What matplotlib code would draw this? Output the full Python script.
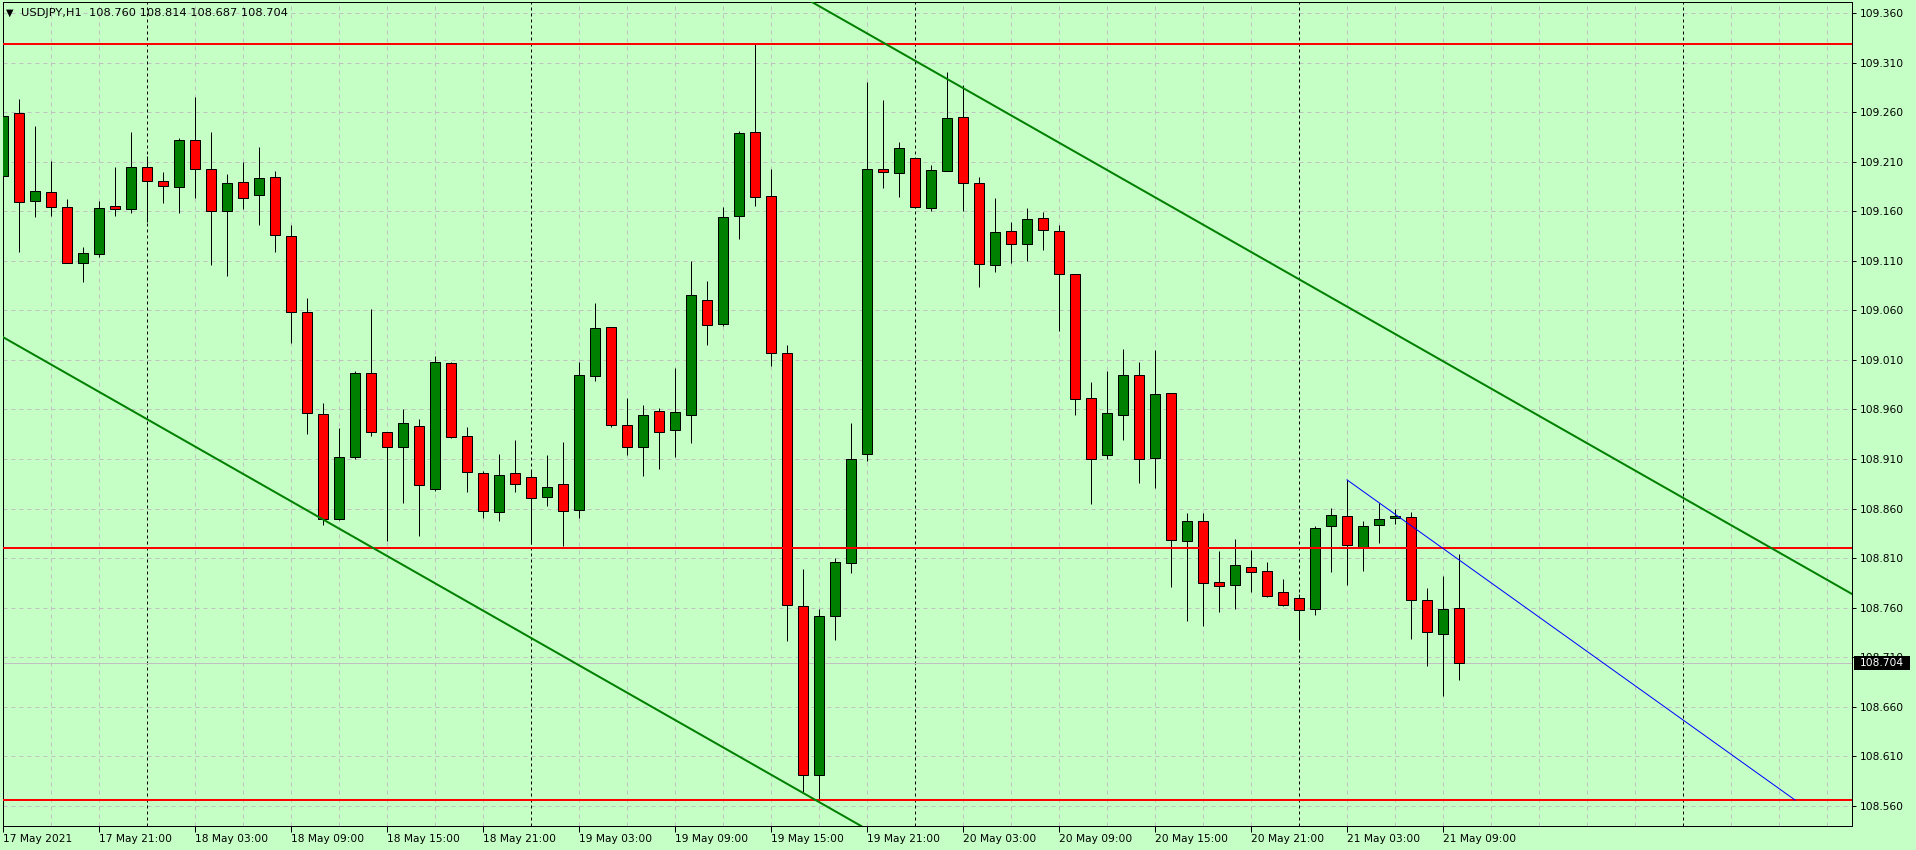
import matplotlib
matplotlib.use("Agg")
import matplotlib.pyplot as plt
from matplotlib.patches import Rectangle
from matplotlib.transforms import blended_transform_factory
import numpy as np

# ---------------- data ----------------
title_text = "USDJPY,H1  108.760 108.814 108.687 108.704"

opens = [109.196, 109.259, 109.170, 109.179, 109.164, 109.108, 109.117, 109.165, 109.162, 109.205,
         109.191, 109.184, 109.232, 109.203, 109.160, 109.190, 109.176, 109.195, 109.135, 109.058,
         108.955, 108.850, 108.912, 108.997, 108.937, 108.922, 108.943, 108.880, 109.007, 108.933,
         108.896, 108.857, 108.896, 108.892, 108.872, 108.885, 108.859, 108.994, 109.043, 108.944,
         108.922, 108.958, 108.939, 108.954, 109.070, 109.046, 109.155, 109.240, 109.175, 109.017,
         108.762, 108.591, 108.752, 108.805, 108.915, 109.203, 109.199, 109.214, 109.163, 109.201,
         109.255, 109.188, 109.106, 109.140, 109.127, 109.153, 109.140, 109.097, 108.972, 108.914,
         108.954, 108.995, 108.911, 108.977, 108.827, 108.848, 108.786, 108.783, 108.801, 108.797,
         108.776, 108.770, 108.759, 108.842, 108.853, 108.821, 108.843, 108.851, 108.852, 108.768,
         108.734, 108.760]
highs = [109.281, 109.273, 109.246, 109.211, 109.172, 109.124, 109.170, 109.205, 109.240, 109.216,
         109.200, 109.234, 109.275, 109.240, 109.198, 109.210, 109.225, 109.201, 109.146, 109.072,
         108.967, 108.941, 108.999, 109.061, 108.937, 108.960, 108.950, 109.014, 109.008, 108.942,
         108.898, 108.915, 108.929, 108.899, 108.914, 108.927, 109.008, 109.067, 109.043, 108.972,
         108.965, 108.962, 109.002, 109.110, 109.090, 109.164, 109.241, 109.330, 109.203, 109.025,
         108.799, 108.759, 108.810, 108.946, 109.290, 109.272, 109.230, 109.214, 109.207, 109.300,
         109.287, 109.195, 109.173, 109.149, 109.163, 109.159, 109.146, 109.097, 108.988, 108.999,
         109.021, 109.008, 109.020, 108.977, 108.856, 108.856, 108.817, 108.829, 108.818, 108.806,
         108.789, 108.774, 108.842, 108.861, 108.889, 108.848, 108.866, 108.860, 108.857, 108.780,
         108.792, 108.814]
lows = [109.148, 109.119, 109.154, 109.155, 109.108, 109.089, 109.114, 109.155, 109.158, 109.149,
        109.168, 109.158, 109.173, 109.106, 109.095, 109.162, 109.146, 109.119, 109.027, 108.935,
        108.843, 108.849, 108.910, 108.933, 108.827, 108.866, 108.832, 108.878, 108.931, 108.877,
        108.851, 108.848, 108.877, 108.824, 108.863, 108.822, 108.851, 108.989, 108.942, 108.914,
        108.893, 108.900, 108.912, 108.926, 109.025, 109.044, 109.132, 109.165, 109.004, 108.726,
        108.574, 108.565, 108.727, 108.795, 108.908, 109.183, 109.174, 109.163, 109.160, 109.201,
        109.160, 109.084, 109.099, 109.108, 109.110, 109.121, 109.039, 108.954, 108.865, 108.910,
        108.929, 108.886, 108.881, 108.781, 108.747, 108.742, 108.756, 108.759, 108.776, 108.771,
        108.762, 108.727, 108.753, 108.796, 108.783, 108.797, 108.825, 108.844, 108.728, 108.701,
        108.671, 108.687]
closes = [109.256, 109.169, 109.180, 109.164, 109.108, 109.118, 109.163, 109.162, 109.205, 109.191,
          109.185, 109.232, 109.203, 109.160, 109.189, 109.173, 109.194, 109.136, 109.058, 108.956,
          108.850, 108.912, 108.997, 108.937, 108.922, 108.946, 108.884, 109.008, 108.932, 108.897,
          108.858, 108.894, 108.885, 108.871, 108.882, 108.858, 108.995, 109.042, 108.944, 108.922,
          108.954, 108.937, 108.957, 109.075, 109.045, 109.154, 109.239, 109.174, 109.017, 108.763,
          108.591, 108.752, 108.806, 108.910, 109.203, 109.200, 109.224, 109.164, 109.202, 109.254,
          109.189, 109.107, 109.139, 109.127, 109.152, 109.141, 109.097, 108.971, 108.910, 108.956,
          108.995, 108.910, 108.976, 108.828, 108.847, 108.785, 108.782, 108.803, 108.796, 108.772,
          108.763, 108.758, 108.840, 108.854, 108.823, 108.842, 108.850, 108.853, 108.768, 108.736,
          108.759, 108.704]

x_tick_bars = [0, 6, 12, 18, 24, 30, 36, 42, 48, 54, 60, 66, 72, 78, 84, 90]
x_tick_labels = ["17 May 2021", "17 May 21:00", "18 May 03:00", "18 May 09:00",
                 "18 May 15:00", "18 May 21:00", "19 May 03:00", "19 May 09:00",
                 "19 May 15:00", "19 May 21:00", "20 May 03:00", "20 May 09:00",
                 "20 May 15:00", "20 May 21:00", "21 May 03:00", "21 May 09:00"]
day_separator_bars = [9, 33, 57, 81, 105]
y_ticks = [108.560, 108.610, 108.660, 108.710, 108.760, 108.810, 108.860, 108.910,
           108.960, 109.010, 109.060, 109.110, 109.160, 109.210, 109.260, 109.310, 109.360]
horizontal_levels = [109.329, 108.820, 108.566]
channel_upper = [(51, 109.367), (115, 108.779)]
channel_lower = [(0, 109.033), (51, 108.564)]
blue_trend = [(84, 108.889), (112, 108.566)]
bid_price = 108.704

# ---------------- style ----------------
BG = "#C6FFC6"
GRID = "#C0C0C0"
BULL = "#008000"
BEAR = "#FF0000"
PX = 0.72  # one pixel in points at 100 dpi
plt.rcParams['lines.scale_dashes'] = False
plt.rcParams['font.family'] = ['DejaVu Sans']

W, H = 1916, 850
fig = plt.figure(figsize=(W / 100, H / 100), dpi=100, facecolor=BG)
ax = fig.add_axes([3 / W, 24 / H, 1849 / W, 824 / H], facecolor=BG)
ax.set_xlim(0, 115.56)
ax.set_ylim(108.5398, 109.3711)

# grid
for p in y_ticks:
    ax.axhline(p, color=GRID, lw=PX, dashes=(4 * PX, 4 * PX), zorder=0.5)
for b in range(3, 116, 3):
    if b not in day_separator_bars:
        ax.axvline(b, color=GRID, lw=PX, dashes=(4 * PX, 4 * PX), zorder=0.5)
for b in day_separator_bars:
    ax.axvline(b, color="black", lw=PX, dashes=(3 * PX, 3 * PX), zorder=0.6)

# bid line
ax.axhline(bid_price, color=GRID, lw=PX, zorder=1)

# candles
x = np.arange(len(opens))
o = np.array(opens); h = np.array(highs); l = np.array(lows); c = np.array(closes)
ax.vlines(x, l, h, color="black", lw=PX, zorder=2)
colors = np.where(c >= o, BULL, BEAR)
bottoms = np.minimum(o, c)
heights = np.abs(c - o)
ax.bar(x, heights, bottom=bottoms, width=0.6, color=colors, edgecolor="black",
       linewidth=PX, zorder=3)

# objects
for lv in horizontal_levels:
    ax.axhline(lv, color="#FF0000", lw=2 * PX, zorder=4)
ax.axline(channel_upper[0], channel_upper[1], color="#008000", lw=2 * PX, zorder=4)
ax.axline(channel_lower[0], channel_lower[1], color="#008000", lw=2 * PX, zorder=4)
ax.plot([blue_trend[0][0], blue_trend[1][0]], [blue_trend[0][1], blue_trend[1][1]],
        color="#0000FF", lw=PX, zorder=4)

# axes
for s in ax.spines.values():
    s.set_color("black")
    s.set_linewidth(PX)
ax.yaxis.tick_right()
ax.set_yticks(y_ticks)
ax.set_yticklabels(["%.3f" % v for v in y_ticks])
ax.tick_params(axis="y", direction="out", length=3.2, width=PX, pad=2.5,
               labelsize=7.7, colors="black")
ax.set_xticks(x_tick_bars)
ax.set_xticklabels(x_tick_labels)
for t in ax.get_xticklabels():
    t.set_ha("left")
ax.tick_params(axis="x", direction="out", length=4.3, width=PX, pad=1.5,
               labelsize=7.7, colors="black")

# bid price box
tr = blended_transform_factory(fig.transFigure, ax.transData)
box_h = 14 / 991.25
ax.add_patch(Rectangle((1854 / W, bid_price - box_h / 2), 56 / W, box_h,
                       transform=tr, facecolor="black", edgecolor="none",
                       clip_on=False, zorder=10))
ax.text(1860 / W, bid_price, "%.3f" % bid_price, transform=tr, color="white",
        fontsize=7.7, va="center", ha="left", zorder=11, clip_on=False)

# title
fig.text(6 / W, 1 - 13 / H, "\u25BC", fontsize=7, va="center", ha="left", color="black")
fig.text(21 / W, 1 - 13 / H, title_text, fontsize=8.2, va="center", ha="left", color="black")

fig.savefig("out.png", dpi=100, facecolor=BG)
